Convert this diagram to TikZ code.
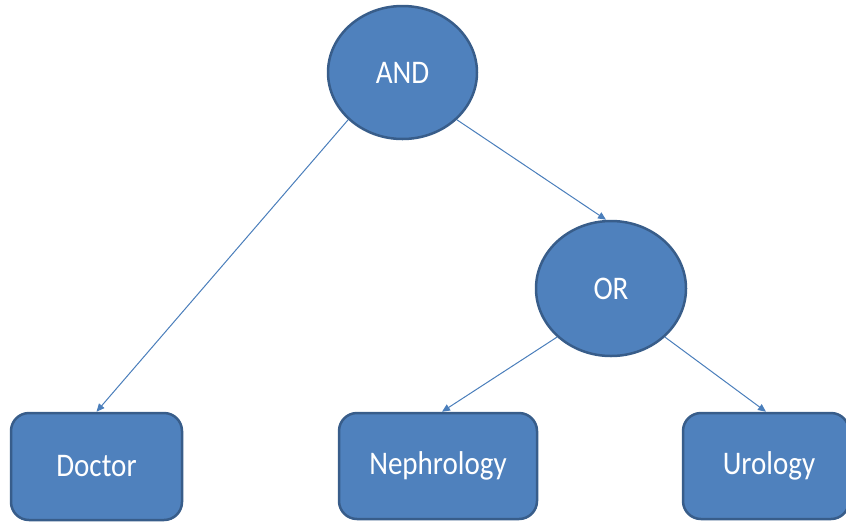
\documentclass[tikz,border=0pt]{standalone}
\usepackage{fontspec}
\setmainfont{Carlito}
\newfontfamily\lblfont[FakeStretch=0.88]{Carlito}
\usetikzlibrary{shapes.geometric,arrows.meta}
\definecolor{boxfill}{HTML}{4F81BD}
\definecolor{boxline}{HTML}{385D8A}
\definecolor{conn}{HTML}{4A7EBB}
\tikzset{
  gate/.style={ellipse, fill=boxfill, draw=boxline, line width=2.5pt, inner sep=0pt,
    text=white, font=\lblfont\fontsize{33}{36}\selectfont},
  leaf/.style={rectangle, rounded corners=18pt, fill=boxfill, draw=boxline, line width=2.5pt,
    inner sep=0pt, text=white, font=\lblfont\fontsize{33}{36}\selectfont},
  conn/.style={draw=conn, line width=1pt, -{Triangle[length=8pt,width=7pt]}}
}
\begin{document}
\begin{tikzpicture}[x=1pt,y=-1pt]
\useasboundingbox (0,0) rectangle (846,523);
\clip (0,0) rectangle (846,523);
\node[gate, minimum width=149pt, minimum height=133pt] (AND) at (402.5,72.5) {AND};
\node[gate, minimum width=150pt, minimum height=135pt] (OR) at (611,288.5) {OR};
\node[leaf, minimum width=171pt, minimum height=107pt] (Doctor) at (96.5,466.5) {Doctor};
\node[leaf, minimum width=198pt, minimum height=106pt] (Neph) at (438,466) {Nephrology};
\node[leaf, minimum width=166pt, minimum height=106pt] (Uro) at (766,466) {\hspace*{6pt}Urology};
\draw[conn] (AND.-139) -- (Doctor.north);
\draw[conn] (AND.-41) -- ([xshift=-5pt]OR.north);
\draw[conn] (OR.-138) -- ([xshift=4pt]Neph.north);
\draw[conn] (OR.-42) -- (Uro.north);
\end{tikzpicture}
\end{document}
